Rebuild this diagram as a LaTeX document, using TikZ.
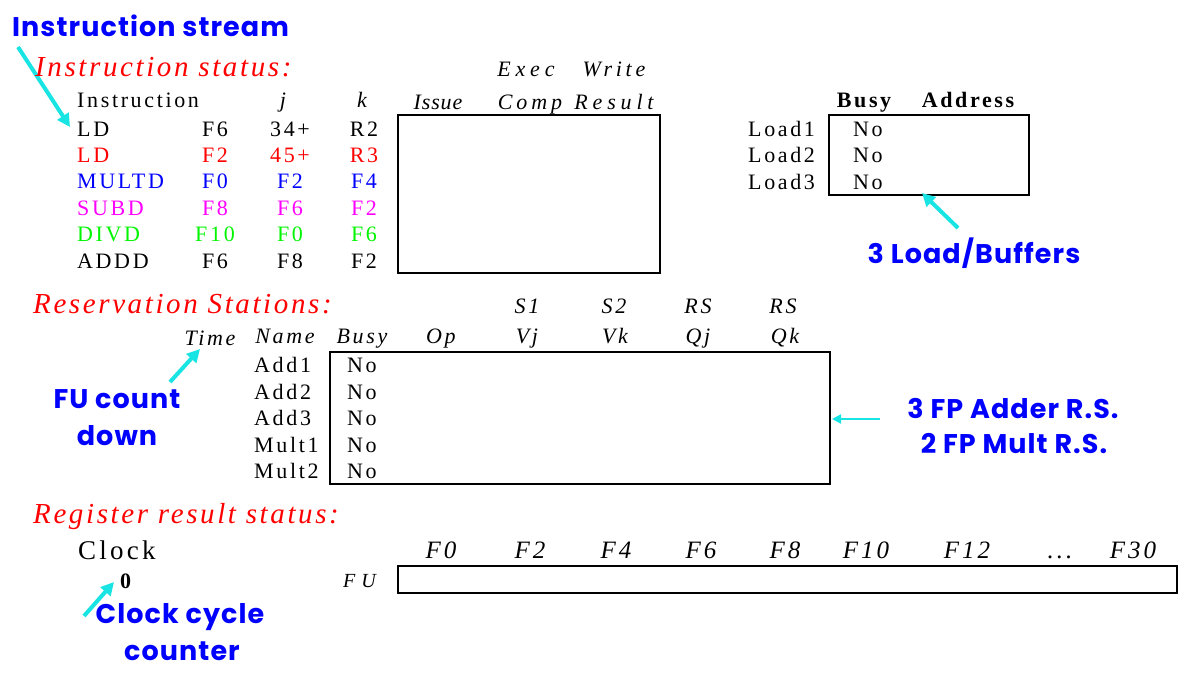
\documentclass[tikz,border=0pt]{standalone}
\usepackage{fontspec}
\usetikzlibrary{arrows.meta}
\newfontfamily\sr[LetterSpace=12]{Liberation Serif}
\newfontfamily\cmc[LetterSpace=4]{Poppins}
\newcommand\mydots{...}
\newcommand\ls[1]{\addfontfeatures{LetterSpace=#1}}
\definecolor{cyanA}{RGB}{25,228,228}
\definecolor{blueT}{RGB}{0,0,255}
\definecolor{redT}{RGB}{255,0,0}
\definecolor{magT}{RGB}{255,0,255}
\definecolor{grnT}{RGB}{0,245,0}
\tikzset{
  txt/.style={inner sep=0pt, anchor=base west, font={\sr\fontsize{22}{26}\selectfont}},
  ctxt/.style={txt, anchor=base},
  itx/.style={inner sep=0pt, anchor=base, font={\sr\itshape\fontsize{22}{26}\selectfont}},
  btx/.style={inner sep=0pt, anchor=base, font={\sr\bfseries\fontsize{22}{26}\selectfont}},
  hd/.style={inner sep=0pt, anchor=base west, text=redT, font={\sr\itshape\fontsize{29}{32}\selectfont\ls{9}}},
  note/.style={inner sep=0pt, anchor=base, text=blueT, font={\cmc\bfseries\fontsize{27}{31}\selectfont}},
  freg/.style={inner sep=0pt, anchor=base, font={\sr\itshape\fontsize{25}{28}\selectfont}},
  carrow/.style={draw=cyanA, line width=4pt, -{Triangle[length=13pt,width=13pt]}},
  tarrow/.style={draw=cyanA, line width=2.5pt, -{Triangle[length=9pt,width=9pt]}},
  tbox/.style={draw=black, line width=1.2pt},
}
\begin{document}
\begin{tikzpicture}[x=1pt,y=-1pt]
\useasboundingbox (0,0) rectangle (1180,674);
\fill[white] (0,0) rectangle (1180,674);

% ---- Instruction status
\node[note, anchor=base west] (istream) at (12,37) {Instruction stream};
\coordinate (a1s) at (18,47);
\coordinate (a1e) at (70,127);
\draw[carrow] (a1s) -- (a1e);

\node[hd] (ish) at (35,77) {Instruction status:};
\node[txt] (hInstr) at (77,108) {Instruction};
\node[itx] (hj) at (283,108) {j};
\node[itx] (hk) at (362,108) {k};
\node[itx] (hExec) at (526,77) {\ls{22}Exec};
\node[itx] (hWrite) at (614,77) {\ls{17}Write};
\node[itx] (hIssue) at (438,110) {\ls{4}Issue};
\node[itx] (hComp) at (530,110) {\ls{18}Comp};
\node[itx] (hResult) at (614,110) {\ls{22}Result};

\foreach \op/\d/\j/\k/\c/\y [count=\i] in
  {LD/F6/34+/R2/black/136, LD/F2/45+/R3/redT/162.4, MULTD/F0/F2/F4/blueT/188.8,
   SUBD/F8/F6/F2/magT/215.2, DIVD/F10/F0/F6/grnT/241.6, ADDD/F6/F8/F2/black/268}{
  \node[txt, text=\c] (op\i) at (77,\y) {\op};
  \node[ctxt, text=\c] (d\i) at (215,\y) {\d};
  \node[ctxt, text=\c] (j\i) at (290,\y) {\j};
  \node[ctxt, text=\c] (k\i) at (364,\y) {\k};
}
\draw[tbox] (398,115) rectangle (660,273);

% ---- Load buffers
\node[btx] (hBusyL) at (864,108) {Busy};
\node[btx] (hAddr) at (968,108) {Address};
\foreach \y [count=\i] in {136,162.5,189}{
  \node[txt] (ld\i) at (748,\y) {Load\i};
  \node[txt] (ldn\i) at (853,\y) {No};
}
\draw[tbox] (829,115) rectangle (1029,195);
\node[note] (lbuf) at (974,263) {3 Load/Buffers};
\coordinate (a2s) at (958,228);
\coordinate (a2e) at (922,193);
\draw[carrow] (a2s) -- (a2e);

% ---- Reservation stations
\node[hd] (rsh) at (33,313) {Reservation Stations:};
\node[itx] (hS1) at (527,313) {S1};
\node[itx] (hS2) at (614,313) {S2};
\node[itx] (hRS1) at (698,313) {RS};
\node[itx] (hRS2) at (783,313) {RS};
\node[itx] (hTime) at (210,345) {Time};
\node[itx] (hName) at (285,343) {Name};
\node[itx] (hBusy) at (362,343) {Busy};
\node[itx] (hOp) at (441,343) {Op};
\node[itx] (hVj) at (527,343) {Vj};
\node[itx] (hVk) at (615,343) {Vk};
\node[itx] (hQj) at (698,343) {Qj};
\node[itx] (hQk) at (785,343) {Qk};
\foreach \n/\y [count=\i] in {Add1/372, Add2/399, Add3/425, Mult1/452, Mult2/478}{
  \node[txt] (rs\i) at (254,\y) {\n};
  \node[txt] (rsn\i) at (347,\y) {No};
}
\draw[tbox] (330,352) rectangle (830,484);

\node[note] (fu1) at (117,408) {FU count};
\node[note] (fu2) at (117,445) {down};
\coordinate (a3s) at (170,382);
\coordinate (a3e) at (200,349);
\draw[carrow] (a3s) -- (a3e);

\node[note] (fp1) at (1013,418) {3 FP Adder R.S.};
\node[note] (fp2) at (1014,453) {2 FP Mult R.S.};
\coordinate (a4s) at (880,419);
\coordinate (a4e) at (832,419);
\draw[tarrow] (a4s) -- (a4e);

% ---- Register result status
\node[hd] (rrh) at (33,523) {Register result status:};
\node[inner sep=0pt, anchor=base west, font={\sr\fontsize{27}{30}\selectfont}] (clk) at (78,559) {Clock};
\node[inner sep=0pt, anchor=base west, font={\sr\bfseries\fontsize{22}{24}\selectfont}] (clk0) at (120,588) {0};
\node[inner sep=0pt, anchor=base west, font={\sr\itshape\fontsize{20}{22}\selectfont}] (hFU) at (343,587) {\ls{30}FU};
\foreach \f/\x [count=\i] in {F0/441, F2/530, F4/616, F6/701, F8/785, F10/866, F12/967, \mydots/1060, F30/1133}{
  \node[freg] (fr\i) at (\x,558) {\f};
}
\draw[tbox] (398,566) rectangle (1177,593);

\node[note] (cc1) at (180,623) {Clock cycle};
\node[note] (cc2) at (182,660) {counter};
\coordinate (a5s) at (84,616);
\coordinate (a5e) at (114,582);
\draw[carrow] (a5s) -- (a5e);
\end{tikzpicture}
\end{document}
